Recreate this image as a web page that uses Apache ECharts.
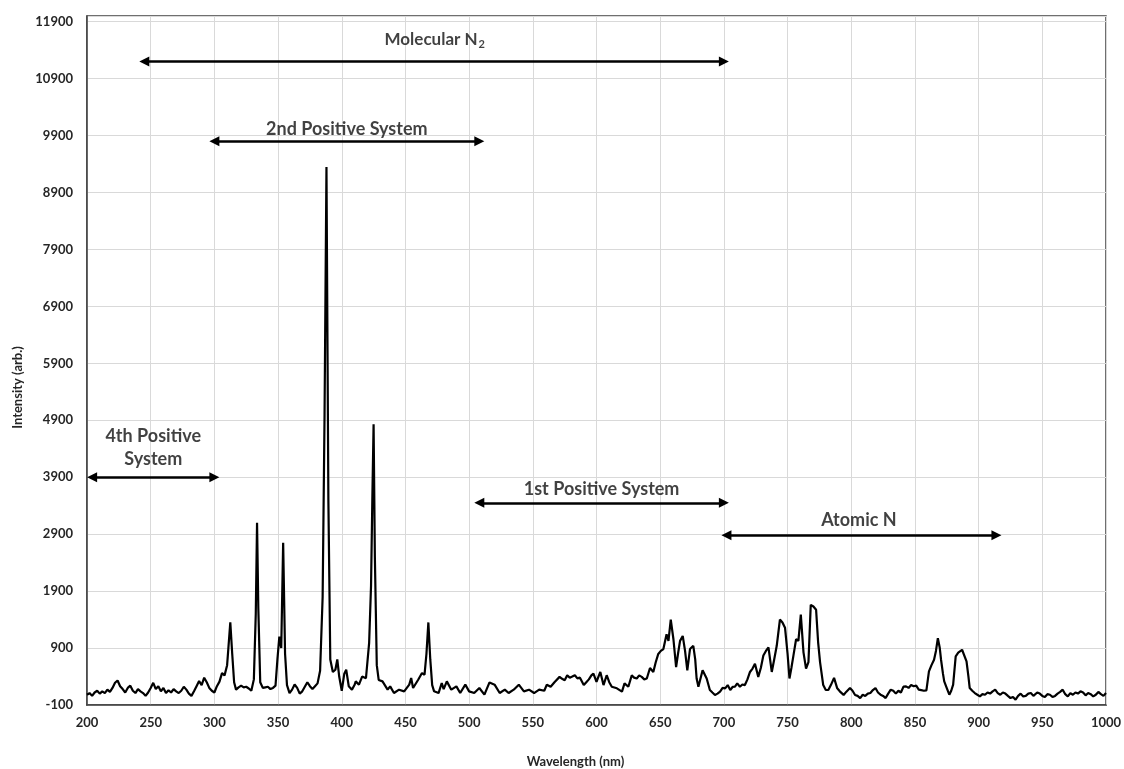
<!DOCTYPE html>
<html>
<head>
<meta charset="utf-8">
<script src="https://cdn.jsdelivr.net/npm/echarts@6/dist/echarts.min.js"></script>
<style>
html,body{margin:0;padding:0;background:#fff;}
#chart{width:1124px;height:769px;}
</style>
</head>
<body>
<div id="chart"></div>
<script>
// Spectrum: wavelength (nm) and intensity (arb.)
const wavelength = [
200,202,204,206,208,210,212,214,216,218,220,222,224,226,228,230,232,234,236,238,
240,242,244,246,248,250,252,254,256,258,260,262,264,266,268,270,272,274,276,278,
280,282,284,286,288,290,292,294,296,298,300,302,304,306,308,310,311,312.5,314,315.5,
317,319,321,323,325,327,329,331,332.5,333.5,334.5,336,338,340,342,344,346,348,349.5,351,
352.5,354,355.5,357,359,361,363,365,367,369,371,373,375,377,379,381,383,385,386.5,388,
389.5,391,393,395,396.5,398,400,402,403.5,405.5,408,410,411,413.5,416,419,421.5,423,424,425,
426,427.5,429,432,436,438,441,445,449,453,454.5,456,460,463,465,466.5,468,469.5,471,472.5,
476,478.5,480,482.5,486,490,493,497,500,504,508,512,516,520,524,528,531,535,539,543,
547,551,555,559,561,564,567,571,573,575,577,579,581,583,585,587,590,592,594,596,
597.6,600,603,605.5,608,610,612,616,620,622,625,627.7,629.5,631.6,633.5,635.5,637.5,639.5,642,644.6,
646.5,648.5,650.5,652.5,655,656.5,658.3,660.4,662.5,664,665.6,667.7,669.5,671.3,673.4,676,677.5,678.6,680,683.3,
686.5,689,691,693,695,697,699,701,703,705,707,708.7,710.5,712.6,714.5,716.5,718.5,720.5,722.5,724.4,
727,729,731,733,735,737.6,739.5,741.5,744,746,748,750,751.5,753,754.6,756.7,758.5,760.4,762.5,764.5,
766.4,768.2,770.3,772.4,774,775.5,778,780,782,784,786.5,789,791,794,796,799,801,803,805,807,
809,811,813,815,817,819,821,823,825,827,829,831,833,835,837,839,841,843,845,847,
849,851,853,855,857,859,861,863,865,866.5,868,869.5,870.5,872,873,875,877,878.5,880,882,
884,885,887,888,890.5,892,893,895,897,899,901,903,905,907,909,911,913,915,917,919,
921,923,925,927,929,931,933,935,937,939,941,943,944.5,946,948,950,952,954,956,958,
960,962,964,966,968,970,972,974,976,978,980,982,984,986,988,990,992,994,996,998,1000
];
const intensity = [
80,110,60,120,150,100,140,110,170,130,200,290,330,230,180,120,200,240,150,110,
180,140,110,60,120,200,290,180,230,140,200,110,160,120,180,140,110,150,220,170,
100,60,140,230,320,250,380,300,200,150,120,230,310,460,420,600,900,1350,800,300,
170,210,240,210,220,190,150,350,1500,3100,1600,300,200,210,220,180,200,240,700,1100,
900,2750,800,250,110,170,260,200,100,140,220,300,230,180,230,280,500,1800,5000,9350,
3500,700,480,520,700,400,150,450,520,230,170,250,315,257,400,370,990,2000,3500,4830,
2500,600,340,315,169,227,110,169,140,257,374,198,344,461,432,800,1350,700,250,140,
110,286,180,315,169,227,110,257,140,110,198,81,297,257,110,169,110,169,257,140,
169,110,170,150,257,220,300,394,360,336,420,380,400,423,368,380,250,300,350,420,
452,308,480,250,423,300,221,193,135,279,220,423,380,365,420,394,350,365,549,480,
650,797,850,883,1141,1026,1400,1055,567,800,1026,1113,854,509,883,940,700,365,221,509,
365,164,120,77,100,135,200,193,250,164,220,221,280,221,260,250,350,480,540,624,
394,550,768,850,912,480,700,940,1400,1350,1257,800,365,550,768,1055,1026,1487,825,538,
653,1659,1630,1573,1000,653,250,163,164,250,377,193,140,77,130,198,150,76,60,22,
80,60,100,110,163,198,120,81,60,22,100,169,150,100,150,120,222,227,200,251,
230,240,170,160,150,157,490,600,695,850,1075,900,695,450,315,198,81,150,257,754,
820,812,870,860,666,400,198,150,110,80,52,90,80,120,100,140,169,110,80,120,
100,60,22,40,-7,60,100,50,60,100,110,60,90,120,100,60,40,90,80,40,
60,100,130,169,90,50,110,80,120,100,140,120,70,110,90,50,80,130,90,60,110
];

// Annotations (band ranges)
const bandNames = ['{big|Molecular N}{sub|2}', '2nd Positive System', '4th Positive\nSystem', '1st Positive System', 'Atomic N'];
const bandStart = [245, 300, 204, 508, 702];
const bandEnd = [700, 508, 300, 700, 914];
const bandLevel = [11200, 9800, 3900, 3450, 2880];
const bandLabelX = [473, 404, 252, 604, 806];
const bandLabelY = [11580, 10020, 4414, 3686, 3142];

const yMin = -100, yMax = 12000, yStep = 1000;
const xMin = 200, xMax = 1000, xStep = 50;

const chart = echarts.init(document.getElementById('chart'), null, {renderer: 'canvas'});
const txtColor = '#262626';
const annColor = '#111111';
const font = 'Lato, "Open Sans", sans-serif';

const spectrum = wavelength.map((w, i) => [w, intensity[i]]);
const arrowLines = bandStart.map((s, i) => [{coord: [s, bandLevel[i]]}, {coord: [bandEnd[i], bandLevel[i]]}]);
const labelPts = bandNames.map((n, i) => ({name: n, value: [bandLabelX[i], bandLabelY[i]]}));

chart.setOption({
  animation: false,
  backgroundColor: '#ffffff',
  grid: {left: 87, right: 18, top: 16, bottom: 64, containLabel: false, outerBoundsMode: 'none',
         show: true, borderColor: '#404040', borderWidth: 1.5},
  xAxis: {
    type: 'value', min: xMin, max: xMax, interval: xStep,
    name: 'Wavelength (nm)', nameLocation: 'middle', nameGap: 50,
    nameTextStyle: {fontFamily: font, fontWeight: 'bold', fontSize: 13, color: txtColor, padding: [0, 42, 0, 0]},
    axisLine: {show: true, onZero: false, lineStyle: {color: '#404040', width: 1.5}},
    axisTick: {show: false},
    axisLabel: {fontFamily: font, fontWeight: 'bold', fontSize: 13, color: txtColor, margin: 11, formatter: v => String(v)},
    splitLine: {show: true, lineStyle: {color: '#d9d9d9', width: 1}}
  },
  yAxis: {
    type: 'value', min: yMin, max: yMax, interval: yStep,
    name: 'Intensity (arb.)', nameLocation: 'middle', nameGap: 60,
    nameTextStyle: {fontFamily: font, fontWeight: 'bold', fontSize: 13, color: txtColor, padding: [0, 54, 0, 0]},
    axisLine: {show: true, onZero: false, lineStyle: {color: '#404040', width: 1.5}},
    axisTick: {show: false},
    axisLabel: {fontFamily: font, fontWeight: 'bold', fontSize: 13, color: txtColor, margin: 14, showMaxLabel: false, formatter: v => String(v)},
    splitLine: {show: true, lineStyle: {color: '#d9d9d9', width: 1}}
  },
  series: [
    {
      type: 'line', data: spectrum, showSymbol: false, symbol: 'none',
      lineStyle: {color: '#000', width: 2.2},
      z: 3,
      markLine: {
        silent: true, animation: false,
        symbol: ['triangle', 'triangle'], symbolSize: [10, 10],
        lineStyle: {color: '#000', width: 2.5, type: 'solid'},
        label: {show: false},
        emphasis: {disabled: true},
        data: arrowLines
      }
    },
    {
      type: 'scatter', data: labelPts, symbolSize: 0, silent: true, z: 4,
      label: {
        show: true, position: 'inside', formatter: '{b}',
        fontFamily: font, fontWeight: 'bold', fontSize: 18, color: annColor, lineHeight: 23, align: 'center',
        rich: {
          big: {fontFamily: font, fontWeight: 'bold', fontSize: 17, color: annColor},
          sub: {fontFamily: font, fontWeight: 'bold', fontSize: 11, color: annColor, padding: [10, 0, 0, 1]}
        }
      }
    }
  ]
});
</script>
</body>
</html>
